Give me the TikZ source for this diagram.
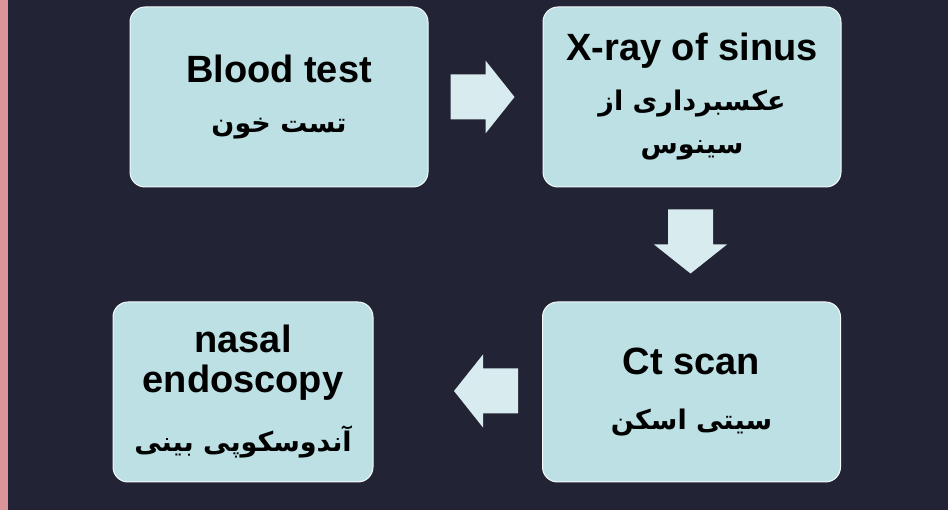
\documentclass[tikz,border=0pt]{standalone}
\usepackage{fontspec}
\setmainfont{Liberation Sans}
\newfontfamily\farsi[Script=Arabic]{DejaVu Sans}
\TeXXeTstate=1
\usetikzlibrary{calc}

\definecolor{bgnavy}{HTML}{222334}
\definecolor{sidepink}{HTML}{D99597}
\definecolor{boxcyan}{HTML}{BCE0E3}
\definecolor{arrowcyan}{HTML}{D8ECEF}

\newcommand{\fa}[1]{{\farsi\bfseries\fontsize{27}{40}\selectfont\beginR #1\endR}}
\newcommand{\flowarrow}[2]{\fill[arrowcyan, shift={#1}, rotate=#2]
   (-32,-22.5) -- (3,-22.5) -- (3,-36.5) -- (32,0) -- (3,36.5) -- (3,22.5) -- (-32,22.5) -- cycle;}

\begin{document}
\begin{tikzpicture}[x=1pt,y=1pt,
   stepbox/.style={draw=white!85!boxcyan, line width=1pt, fill=boxcyan, rounded corners=15pt,
      minimum width=298pt, minimum height=180pt, inner sep=0pt, align=center,
      font=\bfseries\fontsize{38}{40}\selectfont}]
\fill[bgnavy] (0,0) rectangle (948,510);
\fill[sidepink] (0,0) rectangle (8,510);
\node[stepbox] (blood) at (279,413) {Blood test\\[10pt]\fa{تست خون}};
\node[stepbox] (xray) at (692,413) {X-ray of sinus\\[10pt]\fa{عکسبرداری  از}\\[3pt]\fa{سینوس}};
\node[stepbox] (ct) at (691.5,118) {Ct scan\\[15pt]\fa{سیتی اسکن}};
\node[stepbox, minimum width=260pt] (endo) at (243,118) {nasal\\endoscopy\\[19pt]\fa{آندوسکوپی بینی}};
\flowarrow{($(blood.east)+(54,0)$)}{0}
\flowarrow{($(xray.south)+(-1.5,-54)$)}{-90}
\flowarrow{($(ct.west)+(-56,1)$)}{180}
\end{tikzpicture}
\end{document}
